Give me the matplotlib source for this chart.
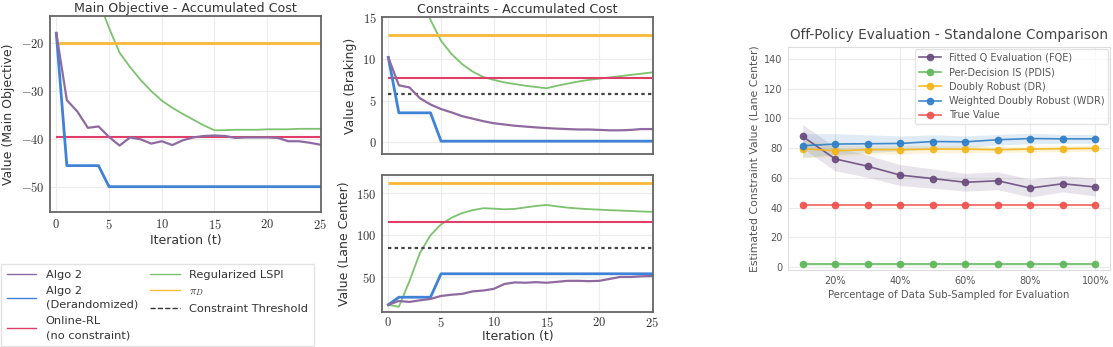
import numpy as np
import matplotlib.pyplot as plt
from matplotlib.ticker import FuncFormatter
from matplotlib.lines import Line2D

plt.rcParams['mathtext.fontset'] = 'cm'
plt.rcParams['font.family'] = 'DejaVu Sans'

# ---- data: policy learning curves (iterations 0..25) ----
iterations = np.arange(26)

main_algo2 = [-17.9, -31.9, -34.3, -37.7, -37.4, -39.6, -41.4, -39.7, -40.1, -41.0, -40.5, -41.3, -40.3,
              -39.7, -39.4, -39.3, -39.4, -39.8, -39.7, -39.7, -39.7, -39.8, -40.5, -40.5, -40.8, -41.2]
main_derand = [-17.9, -45.6, -45.6, -45.6, -45.6] + [-50.0] * 21
main_lspi = [10, 4, -1, -6, -11, -16.8, -22, -25, -27.7, -30, -32, -33.5, -34.8, -36, -37.2, -38.2,
             -38.2, -38.1, -38.1, -38.1, -38.0, -38.0, -38.0, -37.9, -37.9, -37.9]
main_pi_d = -20.0
main_online = -39.6

brake_algo2 = [10.2, 6.85, 6.6, 5.3, 4.55, 4.0, 3.6, 3.15, 2.85, 2.55, 2.3, 2.15, 2.0, 1.9, 1.8,
               1.72, 1.65, 1.6, 1.55, 1.55, 1.5, 1.45, 1.45, 1.5, 1.6, 1.6]
brake_derand = [10.2, 3.55, 3.55, 3.55, 3.55] + [0.15] * 21
brake_lspi = [33, 27, 22, 18, 14.7, 12.2, 10.6, 9.4, 8.5, 7.85, 7.5, 7.2, 7.0, 6.8, 6.65, 6.5,
              6.8, 7.05, 7.3, 7.5, 7.65, 7.8, 7.95, 8.1, 8.25, 8.4]
brake_pi_d = 12.9
brake_online = 7.7
brake_threshold = 5.8

lane_algo2 = [17, 21.5, 20.4, 22.3, 24, 27.5, 29, 30, 33, 34, 36, 41.8, 43.7, 43.3, 44, 43.3, 44.4,
              45.6, 45.6, 45.2, 45.6, 47.9, 50.2, 50.2, 51, 51.3]
lane_derand = [17, 26, 26, 26, 26] + [54.0] * 21
lane_lspi = [17, 14.6, 45, 79, 100, 113, 121, 126.5, 130, 132.3, 131.8, 131, 131.5, 133.3, 135, 136.2,
             134.5, 133, 132, 131.2, 130.6, 130, 129.5, 129, 128.4, 128]
lane_pi_d = 162.0
lane_online = 116.0
lane_threshold = 85.0

# ---- data: off-policy evaluation comparison ----
pct = [10, 20, 30, 40, 50, 60, 70, 80, 90, 100]
fqe = [87.8, 72.7, 67.8, 61.8, 59.5, 57.0, 58.0, 53.1, 56.0, 53.8]
fqe_std = [8, 8, 7.5, 7, 6.5, 6, 6, 6, 5.5, 6]
pdis = [1.8] * 10
pdis_std = [0.8] * 10
dr = [79.6, 78.2, 78.9, 78.9, 79.3, 79.3, 78.9, 79.3, 79.6, 79.8]
dr_std = [6, 4, 3, 3, 2.5, 2.5, 2, 2, 2, 2]
wdr = [81.6, 82.7, 82.9, 83.1, 84.4, 84.2, 85.6, 86.4, 86.2, 86.2]
wdr_std = [8, 7, 6, 5, 4.5, 4, 3.5, 3.5, 3, 3]
true_val = [41.5] * 10

# colours
c_algo2 = '#8f6aa0'
c_derand = '#3f82d6'
c_online = '#e03e68'
c_lspi = '#7dc26f'
c_pid = '#f8b83a'

fig = plt.figure(figsize=(11.13, 3.47), dpi=100)

ax_main = fig.add_axes([0.0449, 0.389, 0.2435, 0.565])
ax_brake = fig.add_axes([0.3432, 0.556, 0.2435, 0.395])
ax_lane = fig.add_axes([0.3432, 0.1, 0.2435, 0.3957])
ax_ope = fig.add_axes([0.708, 0.222, 0.2893, 0.6426])

tex_fmt = FuncFormatter(lambda v, p: f'${v:g}$')


def style_left(ax):
    ax.set_xlim(-0.6, 25.1)
    ax.set_xticks([0, 5, 10, 15, 20, 25])
    ax.grid(True, color='#ececec', linewidth=0.8)
    ax.set_axisbelow(True)
    for s in ax.spines.values():
        s.set_color('#666666')
        s.set_linewidth(1.3)
    ax.tick_params(length=0, labelsize=9, colors='#333333', pad=4)
    ax.xaxis.set_major_formatter(tex_fmt)
    ax.yaxis.set_major_formatter(tex_fmt)


def draw_curves(ax, algo2, derand, lspi, pi_d, online, threshold=None):
    ax.plot(iterations, lspi, color=c_lspi, lw=1.3)
    ax.hlines(pi_d, 0, 25, color=c_pid, lw=2)
    ax.hlines(online, 0, 25, color=c_online, lw=1.5)
    if threshold is not None:
        ax.hlines(threshold, 0, 25, color='#444444', lw=1.6, linestyles=(0, (1.5, 1.5)))
    ax.plot(iterations, derand, color=c_derand, lw=2)
    ax.plot(iterations, algo2, color=c_algo2, lw=1.6)


# main objective
draw_curves(ax_main, main_algo2, main_derand, main_lspi, main_pi_d, main_online)
style_left(ax_main)
ax_main.set_ylim(-55.3, -14.3)
ax_main.set_yticks([-50, -40, -30, -20])
ax_main.set_title('Main Objective - Accumulated Cost', fontsize=9.1, color='#333333', pad=3)
ax_main.set_xlabel('Iteration (t)', fontsize=9, color='#333333', labelpad=2)
ax_main.set_ylabel('Value (Main Objective)', fontsize=9, color='#333333')

# braking constraint
draw_curves(ax_brake, brake_algo2, brake_derand, brake_lspi, brake_pi_d, brake_online, brake_threshold)
style_left(ax_brake)
ax_brake.set_ylim(-1.4, 15.05)
ax_brake.set_yticks([0, 5, 10, 15])
ax_brake.tick_params(labelbottom=False)
ax_brake.set_title('Constraints - Accumulated Cost', fontsize=9.1, color='#333333', pad=3)
ax_brake.set_ylabel('Value (Braking)', fontsize=9, color='#333333')

# lane center constraint
draw_curves(ax_lane, lane_algo2, lane_derand, lane_lspi, lane_pi_d, lane_online, lane_threshold)
style_left(ax_lane)
ax_lane.set_ylim(8, 172)
ax_lane.set_yticks([50, 100, 150])
ax_lane.tick_params(axis='x', pad=3)
ax_lane.set_xlabel('Iteration (t)', fontsize=9, color='#333333', labelpad=0)
ax_lane.set_ylabel('Value (Lane Center)', fontsize=9, color='#333333')

# shared legend under the main objective plot
handles = [
    Line2D([], [], color=c_algo2, lw=1),
    Line2D([], [], color=c_derand, lw=1),
    Line2D([], [], color=c_online, lw=1),
    Line2D([], [], color=c_lspi, lw=1),
    Line2D([], [], color=c_pid, lw=1),
    Line2D([], [], color='#333333', lw=1, ls='--'),
]
labels = ['Algo 2', 'Algo 2\n(Derandomized)', 'Online-RL\n(no constraint)',
          'Regularized LSPI', r'$\pi_D$', 'Constraint Threshold']
leg = fig.legend(handles, labels, loc='lower left', bbox_to_anchor=(0.0, 0.0), ncol=2,
                 fontsize=8.2, frameon=True, edgecolor='#dddddd', fancybox=False,
                 handlelength=2.6, columnspacing=1.1, labelspacing=0.55, borderpad=0.5,
                 borderaxespad=0.1, labelcolor='#333333')
for t in leg.get_texts():
    t.set_linespacing(1.5)

# ---- off-policy evaluation panel ----
ope_series = [
    ('Fitted Q Evaluation (FQE)', fqe, fqe_std, '#6b4b7d'),
    ('Per-Decision IS (PDIS)', pdis, pdis_std, '#5db858'),
    ('Doubly Robust (DR)', dr, dr_std, '#f5b516'),
    ('Weighted Doubly Robust (WDR)', wdr, wdr_std, '#2f7fc8'),
    ('True Value', true_val, [0] * 10, '#f0514c'),
]
for name, vals, std, col in ope_series:
    vals = np.array(vals)
    std = np.array(std)
    ax_ope.fill_between(pct, vals - std, vals + std, color=col, alpha=0.15, lw=0)
    ax_ope.plot(pct, vals, color=col, lw=1.2, marker='o', markersize=4.5, label=name, alpha=0.9)

ax_ope.set_xlim(5.5, 104.5)
ax_ope.set_ylim(-2, 148)
ax_ope.set_xticks([20, 40, 60, 80, 100])
ax_ope.set_xticklabels(['20%', '40%', '60%', '80%', '100%'])
ax_ope.set_yticks([0, 20, 40, 60, 80, 100, 120, 140])
ax_ope.grid(True, color='#ebebeb', linewidth=0.8)
ax_ope.set_axisbelow(True)
for s in ax_ope.spines.values():
    s.set_color('#dddddd')
ax_ope.tick_params(length=0, labelsize=7, colors='#555555', pad=4)
ax_ope.set_title('Off-Policy Evaluation - Standalone Comparison', fontsize=9.8, color='#444444', pad=6)
ax_ope.set_xlabel('Percentage of Data Sub-Sampled for Evaluation', fontsize=7.3, color='#555555', labelpad=3)
ax_ope.set_ylabel('Estimated Constraint Value (Lane Center)', fontsize=7.8, color='#555555', labelpad=3)
ax_ope.legend(loc='upper right', fontsize=7, labelcolor='#555555', edgecolor='#dddddd',
              handlelength=2.2, labelspacing=0.45, borderpad=0.4, borderaxespad=0.2)

plt.savefig('out.png', dpi=100)
